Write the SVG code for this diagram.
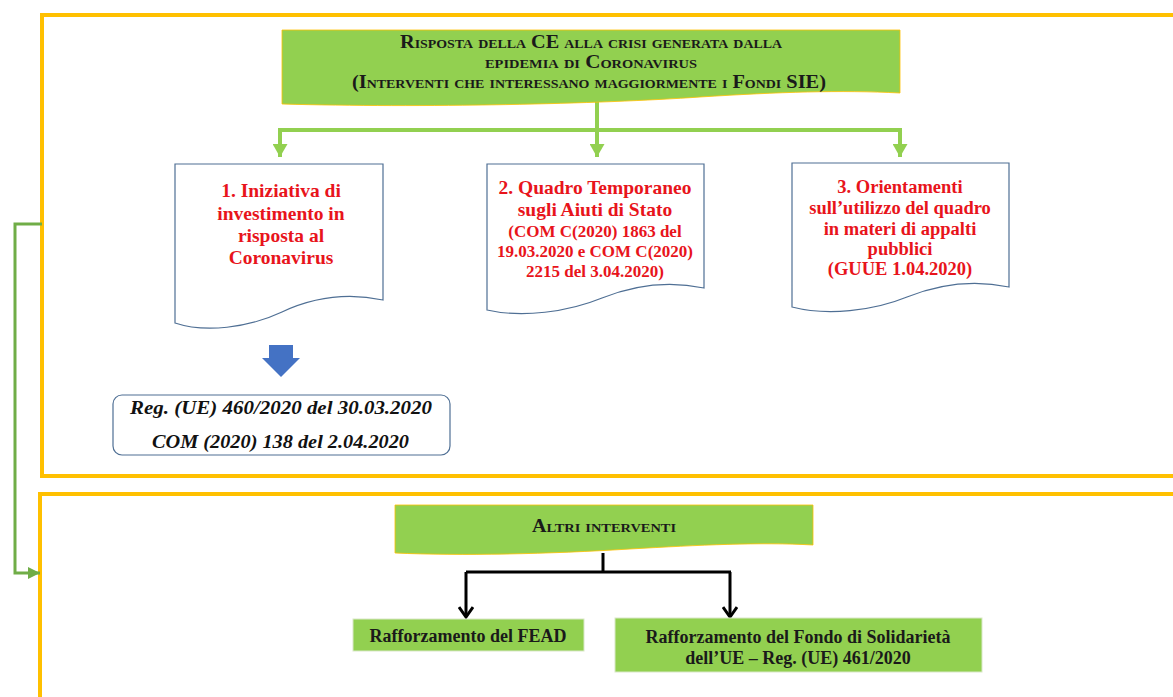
<svg xmlns="http://www.w3.org/2000/svg" width="1173" height="697" viewBox="0 0 1173 697">
<defs>
<style>
.frame{fill:none;stroke:#FFC000;stroke-width:4}
.banner{fill:#92D050;stroke:#FFC000;stroke-width:0.8}
.doc{fill:#fff;stroke:#4F6F94;stroke-width:1.2}
.gbox{fill:#92D050;stroke:#D9E8C8;stroke-width:1}
.sc{font-family:"Liberation Serif",serif;font-weight:bold;font-variant:small-caps;fill:#1a1a1a;text-anchor:start}
.red{font-family:"Liberation Serif",serif;font-weight:bold;fill:#E8141B;text-anchor:middle}
.dk{font-family:"Liberation Serif",serif;font-weight:bold;fill:#1a1a1a;text-anchor:middle;font-size:18px}
.it{font-family:"Liberation Serif",serif;font-weight:bold;font-style:italic;fill:#111;text-anchor:start;font-size:19px}
.gl{fill:none;stroke:#92D050;stroke-width:4}
.gd{fill:none;stroke:#70AD47;stroke-width:3}
.bl{fill:none;stroke:#000;stroke-width:3}
</style>
<marker id="ga" markerWidth="13" markerHeight="15" refX="13" refY="7.5" orient="auto" markerUnits="userSpaceOnUse" viewBox="0 0 13 15">
<path d="M0,0 L13,7.5 L0,15 Z" fill="#92D050"/>
</marker>
<marker id="gd" markerWidth="12" markerHeight="12" refX="12" refY="6" orient="auto" markerUnits="userSpaceOnUse" viewBox="0 0 12 12">
<path d="M0,0 L12,6 L0,12 Z" fill="#70AD47"/>
</marker>
<marker id="ba" markerWidth="14" markerHeight="16" refX="12" refY="8" orient="auto" markerUnits="userSpaceOnUse" viewBox="0 0 14 16">
<path d="M2,1 L12,8 L2,15" fill="none" stroke="#000" stroke-width="3"/>
</marker>
</defs>
<rect width="1173" height="697" fill="#fff"/>

<g id="frame-top"><path class="frame" d="M1180,15 H42 V476 H1180"/></g>
<g id="frame-bottom"><path class="frame" d="M1180,494 H40 V700"/></g>

<g id="connectors">
<path class="gd" d="M42,224 H15 V573 H40" marker-end="url(#gd)"/>
<path class="gl" d="M597,100 V130"/>
<path class="gl" d="M278,130 H902"/>
<path class="gl" d="M280,128 V157" marker-end="url(#ga)"/>
<path class="gl" d="M597,130 V157" marker-end="url(#ga)"/>
<path class="gl" d="M900,128 V157" marker-end="url(#ga)"/>
<path class="bl" d="M603,553 V572"/>
<path class="bl" d="M466,572 H731"/>
<path class="bl" d="M466,572 V617" marker-end="url(#ba)"/>
<path class="bl" d="M730,572 V617" marker-end="url(#ba)"/>
</g>

<g id="main-banner">
<path class="banner" d="M282,30 H900 V93 C840,90 780,92 700,97 C600,104 420,108 282,104 Z"/>
<text class="sc" x="400" y="48" font-size="19" textLength="382" lengthAdjust="spacingAndGlyphs">Risposta della CE alla crisi generata dalla</text>
<text class="sc" x="485" y="68" font-size="19" textLength="212" lengthAdjust="spacingAndGlyphs">epidemia di Coronavirus</text>
<text class="sc" x="352" y="88" font-size="19" textLength="474" lengthAdjust="spacingAndGlyphs">(Interventi che interessano maggiormente i Fondi SIE)</text>
</g>

<g id="doc1">
<path class="doc" d="M175,164 H383 V300 C345,292 312,298 282,312 C248,328 205,333 175,323 Z"/>
<text class="red" font-size="19.5"><tspan x="281" y="197">1. Iniziativa di</tspan><tspan x="281" y="220">investimento in</tspan><tspan x="281" y="242">risposta al</tspan><tspan x="281" y="264">Coronavirus</tspan></text>
</g>

<g id="doc2">
<path class="doc" d="M487,164 H704 V288 C666,280 632,286 602,298 C568,312 522,318 487,310 Z"/>
<text class="red"><tspan x="595" y="194" font-size="19.5">2. Quadro Temporaneo</tspan><tspan x="595" y="216" font-size="19.5">sugli Aiuti di Stato</tspan><tspan x="595" y="237" font-size="17">(COM C(2020) 1863 del</tspan><tspan x="595" y="257" font-size="17">19.03.2020 e COM C(2020)</tspan><tspan x="595" y="277" font-size="17">2215 del 3.04.2020)</tspan></text>
</g>

<g id="doc3">
<path class="doc" d="M792,163 H1009 V287 C971,279 937,285 907,297 C873,311 827,316 792,307 Z"/>
<text class="red" font-size="18.5"><tspan x="900" y="193">3. Orientamenti</tspan><tspan x="900" y="214">sull’utilizzo del quadro</tspan><tspan x="900" y="235">in materi di appalti</tspan><tspan x="900" y="255">pubblici</tspan><tspan x="900" y="275">(GUUE 1.04.2020)</tspan></text>
</g>

<g id="blue-arrow">
<path d="M269,345 H293 V358 H300 L281,377 L262,358 H269 Z" fill="#4472C4"/>
</g>

<g id="reg-box">
<rect x="113" y="395" width="337" height="60" rx="9" fill="#fff" stroke="#4F6F94" stroke-width="1.2"/>
<text class="it" x="130" y="414" textLength="302" lengthAdjust="spacingAndGlyphs">Reg. (UE) 460/2020 del 30.03.2020</text>
<text class="it" x="152" y="448" textLength="257" lengthAdjust="spacingAndGlyphs">COM (2020) 138 del 2.04.2020</text>
</g>

<g id="altri-banner">
<path class="banner" d="M395,505 H813 V545 C760,542 700,545 630,549 C550,554 460,556 395,553 Z"/>
<text class="sc" x="532" y="532" font-size="18" textLength="144" lengthAdjust="spacingAndGlyphs">Altri interventi</text>
</g>

<g id="fead">
<rect class="gbox" x="353" y="619" width="231" height="32"/>
<text class="dk" x="468" y="642">Rafforzamento  del FEAD</text>
</g>

<g id="fondo">
<rect class="gbox" x="615" y="618" width="367" height="54"/>
<text class="dk"><tspan x="798" y="643">Rafforzamento  del Fondo di Solidarietà</tspan><tspan x="798" y="664">dell’UE  – Reg. (UE) 461/2020</tspan></text>
</g>
</svg>
